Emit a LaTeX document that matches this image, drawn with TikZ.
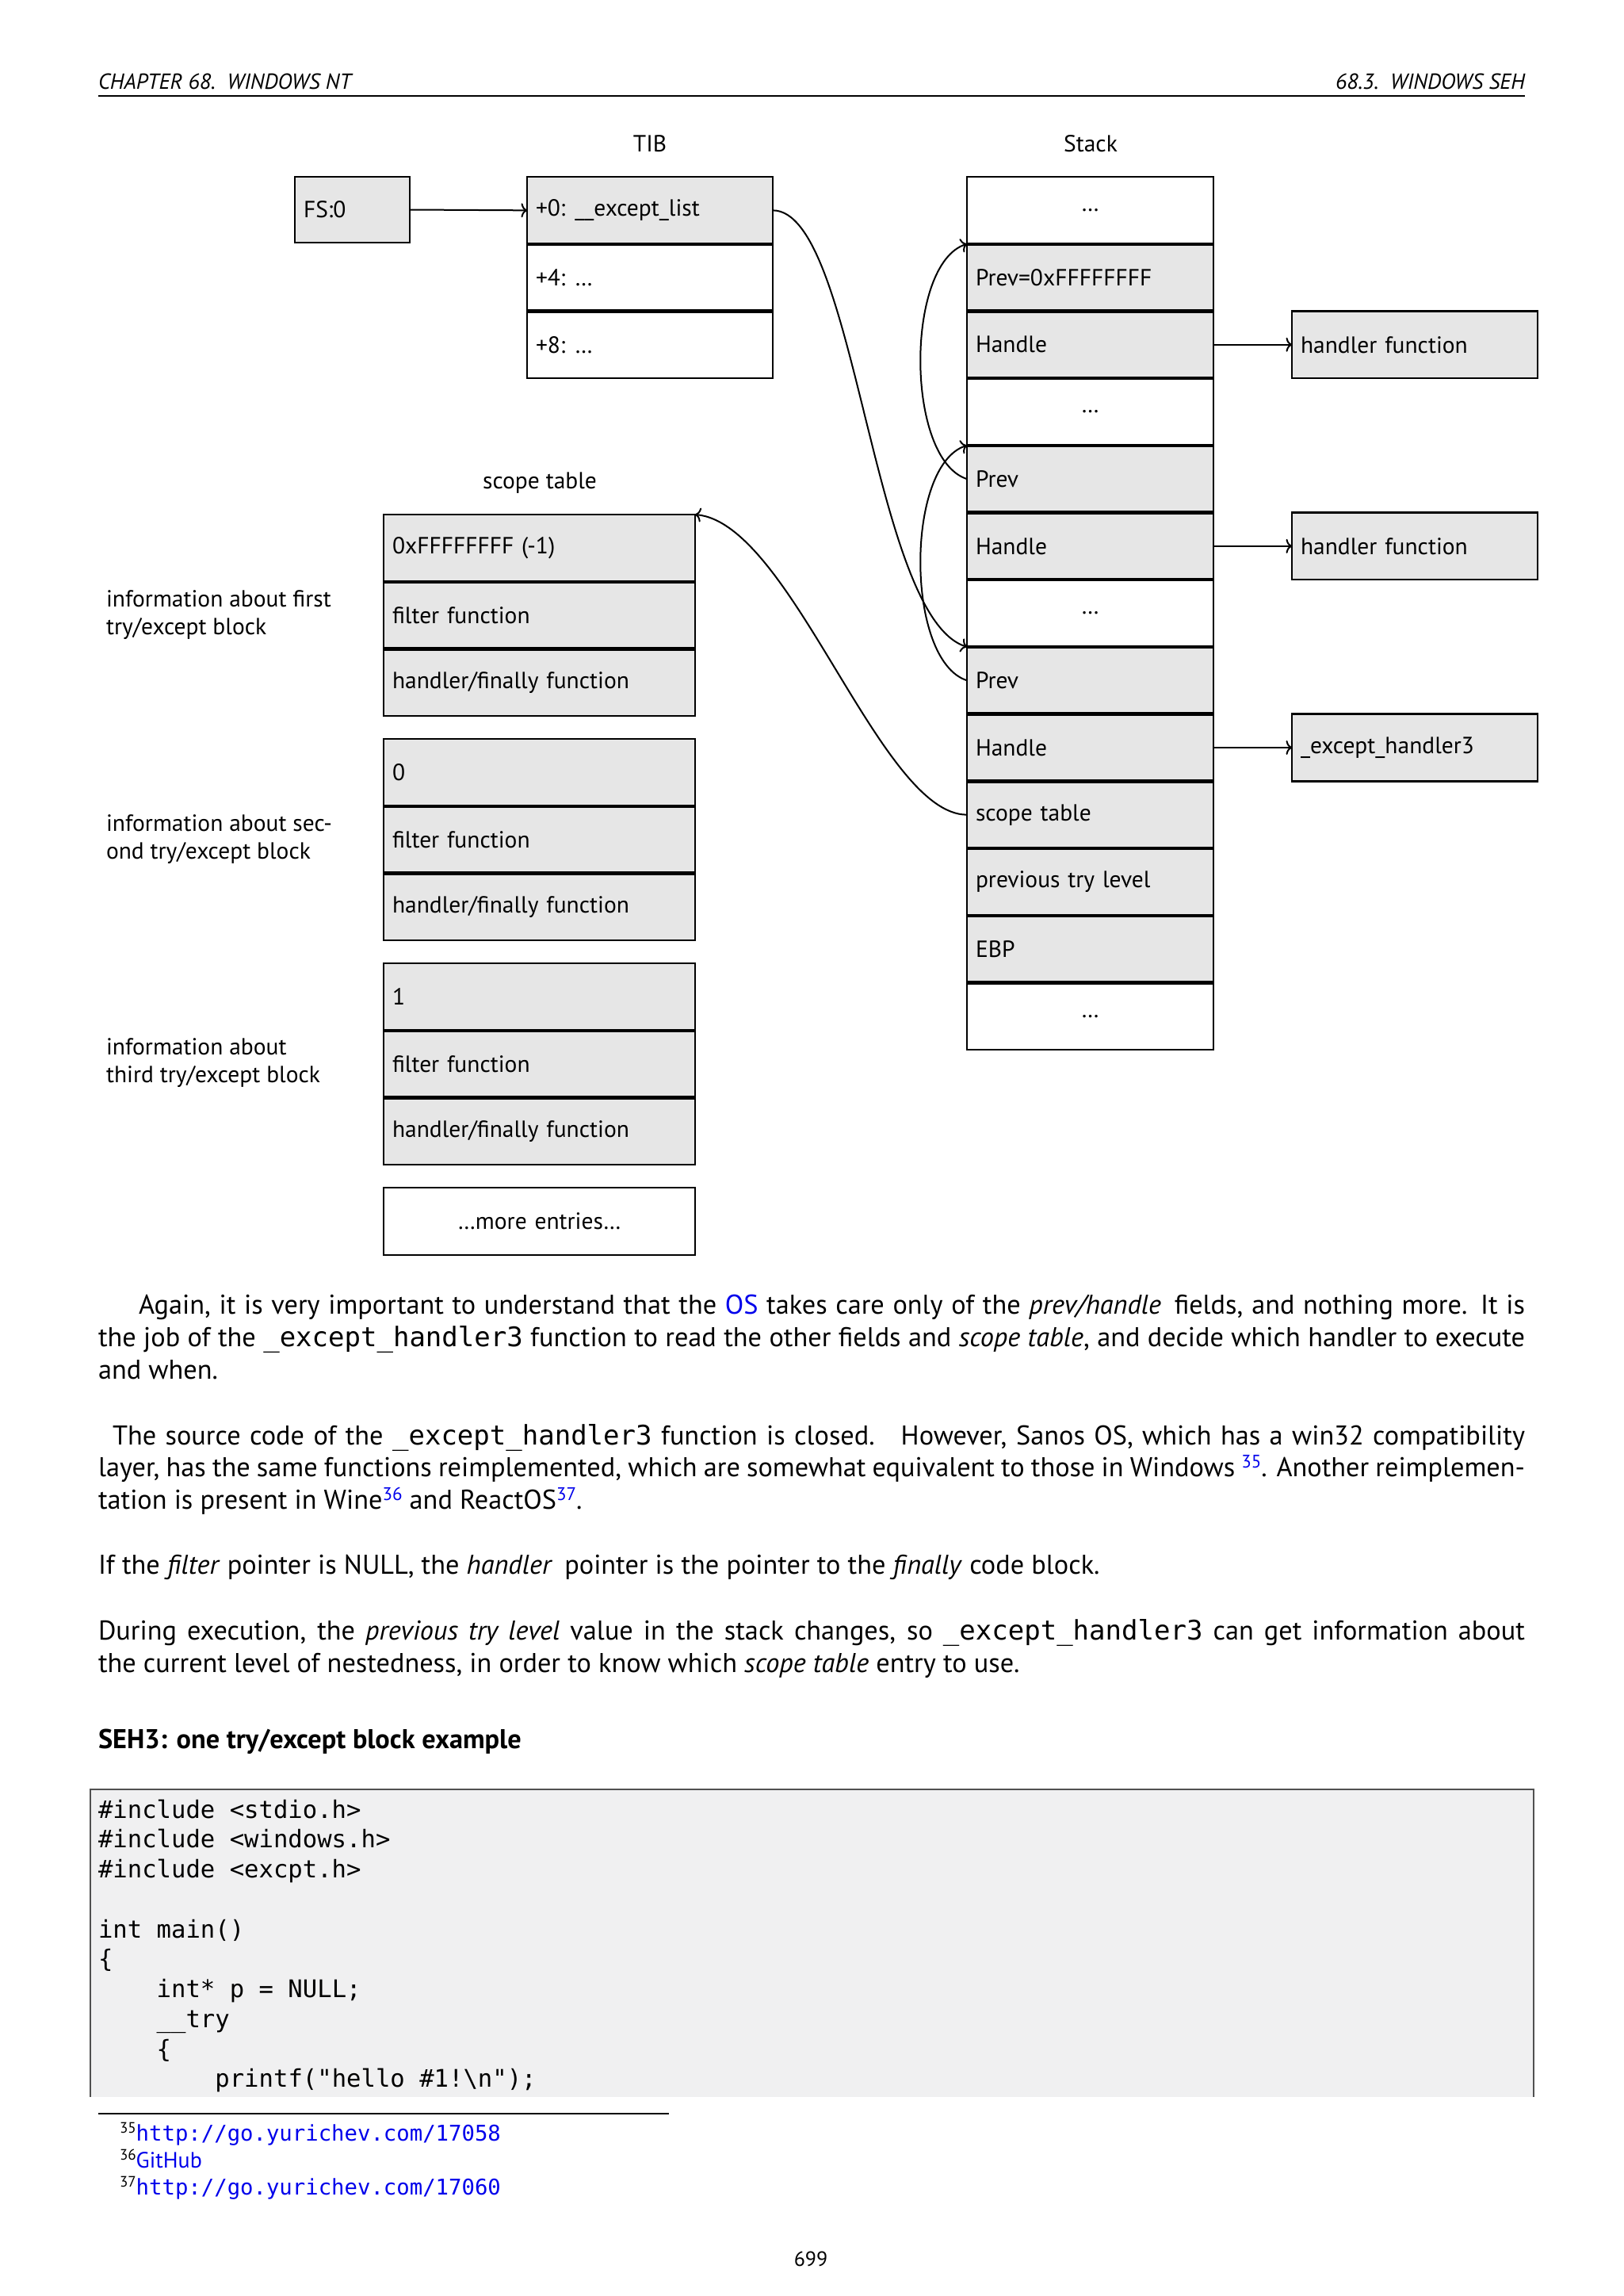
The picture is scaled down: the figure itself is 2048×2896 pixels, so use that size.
\documentclass[tikz,border=0pt]{standalone}
\usepackage{fontspec}
\setmainfont{PT Sans}
\setmonofont{DejaVu Sans Mono}
\usetikzlibrary{arrows.meta}
\definecolor{cellgray}{RGB}{230,230,230}
\definecolor{codegray}{RGB}{240,240,241}
\definecolor{codeframe}{RGB}{80,80,80}
\definecolor{linkblue}{RGB}{0,0,235}
\newcommand\dgf{\fontsize{29.5}{34}\selectfont}
\newcommand\bdf{\fontsize{34.3}{41}\selectfont}
\newcommand\bmono[1]{{\fontsize{34}{41}\selectfont\ttfamily #1}}
\newcommand\cdf{\fontsize{30.6}{37}\selectfont\ttfamily}
\newcommand\hdf{\fontsize{27.5}{32}\selectfont\itshape}
\newcommand\fnf{\fontsize{28}{32}\selectfont}
\newcommand\fnm[1]{{\fontsize{27.3}{30}\selectfont\ttfamily\color{linkblue}#1}}
\newcommand\fsup[1]{\raisebox{10pt}{\fontsize{19}{22}\selectfont #1}}
\newcommand\lsup[1]{\raisebox{11pt}{\fontsize{23}{26}\selectfont\color{linkblue}#1}}
\begin{document}
\begin{tikzpicture}[x=1pt,y=-1pt,
  every node/.style={inner sep=0pt, outer sep=0pt},
  box/.style={draw, line width=2.4pt, inner xsep=11pt, inner ysep=0pt,
    minimum height=84.7pt, anchor=north west, font=\dgf, align=left},
  gbox/.style={box, fill=cellgray},
  wbox/.style={box, fill=white},
  tibw/.style={text width=288pt, minimum width=310pt},
  stkw/.style={text width=289pt, minimum width=311pt},
  scw/.style={text width=371pt, minimum width=393pt},
  ctr/.style={align=center},
  sepline/.style={line width=4.4pt},
  conn/.style={line width=2pt, -{To[length=7.5pt,width=18pt]}},
  lbl/.style={font=\dgf, anchor=base},
  info/.style={font=\dgf, anchor=base west},
  txt/.style={font=\bdf, anchor=base west},
  code/.style={font=\cdf, anchor=base west}]
\useasboundingbox (0,0) rectangle (2048,2896);
\fill[white] (0,0) rectangle (2048,2896);

% header
\node[anchor=base west] (hl) at (124,112) {\hdf CHAPTER 68.\ \ WINDOWS NT};
\node[anchor=base east] (hr) at (1924,112) {\hdf 68.3.\ \ WINDOWS SEH};
\draw[line width=1.6pt] (124,121) -- (1924,121);

% titles
\node[lbl] (tibl) at (820,191) {TIB};
\node[lbl] (stkl) at (1376,191) {Stack};
\node[lbl] (scl) at (681,616) {scope table};

% FS:0
\node[gbox, text width=123pt, minimum width=145pt, minimum height=83pt] (fs) at (372,223) {FS:0};

% TIB
\node[gbox,tibw] (t0) at (665,223) {+0:\hspace{12pt}\_\_except\_list};
\node[wbox,tibw] (t1) at (665,307.7) {+4:\hspace{12pt}…};
\node[wbox,tibw] (t2) at (665,392.4) {+8:\hspace{12pt}…};

% Stack
\node[wbox,stkw,ctr] (s1) at (1220,223) {…};
\node[gbox,stkw] (s2) at (1220,307.7) {Prev=0xFFFFFFFF};
\node[gbox,stkw] (s3) at (1220,392.4) {Handle};
\node[wbox,stkw,ctr] (s4) at (1220,477.1) {…};
\node[gbox,stkw] (s5) at (1220,561.8) {Prev};
\node[gbox,stkw] (s6) at (1220,646.5) {Handle};
\node[wbox,stkw,ctr] (s7) at (1220,731.2) {…};
\node[gbox,stkw] (s8) at (1220,815.9) {Prev};
\node[gbox,stkw] (s9) at (1220,900.6) {Handle};
\node[gbox,stkw] (s10) at (1220,985.3) {scope table};
\node[gbox,stkw] (s11) at (1220,1070) {previous try level};
\node[gbox,stkw] (s12) at (1220,1154.7) {EBP};
\node[wbox,stkw,ctr] (s13) at (1220,1239.4) {…};

% handlers
\node[gbox,tibw] (h1) at (1630,392.4) {handler function};
\node[gbox,tibw] (h2) at (1630,646.5) {handler function};
\node[gbox,tibw] (h3) at (1630,900.6) {\_except\_handler3};

% scope table
\node[gbox,scw] (a0) at (484,649) {0xFFFFFFFF (-1)};
\node[gbox,scw] (a1) at (484,733.7) {filter function};
\node[gbox,scw] (a2) at (484,818.4) {handler/finally function};
\node[gbox,scw] (b0) at (484,932) {0};
\node[gbox,scw] (b1) at (484,1016.7) {filter function};
\node[gbox,scw] (b2) at (484,1101.4) {handler/finally function};
\node[gbox,scw] (c0) at (484,1215) {1};
\node[gbox,scw] (c1) at (484,1299.7) {filter function};
\node[gbox,scw] (c2) at (484,1384.4) {handler/finally function};
\node[wbox,scw,ctr] (more) at (484,1498) {…more entries…};

% separators
\foreach \n in {t0,t1,s1,s2,s3,s4,s5,s6,s7,s8,s9,s10,s11,s12,a0,a1,b0,b1,c0,c1}
  \draw[sepline] (\n.south west) -- (\n.south east);

% info labels
\node[info] (i1a) at (134,765) {information about first};
\node[info] (i1b) at (134,800) {try/except block};
\node[info] (i2a) at (134,1048) {information about sec-};
\node[info] (i2b) at (134,1083) {ond try/except block};
\node[info] (i3a) at (134,1330) {information about};
\node[info] (i3b) at (134,1365) {third try/except block};

% connectors
\draw[conn] (fs.east) -- (t0.west);
\draw[conn] (s3.east) -- (h1.west);
\draw[conn] (s6.east) -- (h2.west);
\draw[conn] (s9.east) -- (h3.west);
\draw[conn] (t0.east) .. controls +(105,0) and +(-120,-38) .. (s8.north west);
\draw[conn] (s5.west) .. controls +(-78,-25) and +(-78,25) .. (s2.north west);
\draw[conn] (s8.west) .. controls +(-78,-25) and +(-78,25) .. (s5.north west);
\draw[conn] (s10.west) .. controls +(-110,0) and +(122,11) .. (a0.north east);

% body text
\node[txt] (p1a) at (175,1657) {\makebox[1749pt][s]{Again, it is very important to understand that the {\color{linkblue}OS} takes care only of the \textit{prev/handle}\hspace{6pt} fields, and nothing more. It is}};
\node[txt] (p1b) at (124,1698) {\makebox[1800pt][s]{the job of the \bmono{\_except\_handler3} function to read the other fields and \textit{scope table}, and decide which handler to execute}};
\node[txt] (p1c) at (124,1739) {and when.};
\node[txt] (p2a) at (142,1822) {\makebox[1782pt][s]{The source code of the \bmono{\_except\_handler3} function is closed.\hspace{14pt} However, Sanos OS, which has a win32 compatibility}};
\node[txt] (p2b) at (124,1862) {\makebox[1800pt][s]{layer, has the same functions reimplemented, which are somewhat equivalent to those in Windows \lsup{35}. Another reimplemen-}};
\node[txt] (p2c) at (124,1903) {tation is present in Wine\lsup{36} and ReactOS\lsup{37}.};
\node[txt] (p3) at (124,1985) {If the \textit{filter} pointer is NULL, the \textit{handler}\hspace{6pt} pointer is the pointer to the \textit{finally} code block.};
\node[txt] (p4a) at (124,2068) {\makebox[1800pt][s]{During execution, the \textit{previous try level} value in the stack changes, so \bmono{\_except\_handler3} can get information about}};
\node[txt] (p4b) at (124,2109) {the current level of nestedness, in order to know which \textit{scope table} entry to use.};

\node[txt] (head) at (124,2205) {\bfseries SEH3: one try/except block example};

% code box
\fill[codegray] (114,2257) rectangle (1935,2645);
\draw[line width=1.5pt, codeframe] (114,2645) -- (114,2257) -- (1935,2257) -- (1935,2645);
\node[code] (c1l) at (124,2293) {\#include <stdio.h>};
\node[code] (c2l) at (124,2330.75) {\#include <windows.h>};
\node[code] (c3l) at (124,2368.5) {\#include <excpt.h>};
\node[code] (c5l) at (124,2444) {int main()};
\node[code] (c6l) at (124,2481.75) {\{};
\node[code] (c7l) at (124,2519.5) {\hspace*{73.7pt}int* p = NULL;};
\node[code] (c8l) at (124,2557.25) {\hspace*{73.7pt}\_\_try};
\node[code] (c9l) at (124,2595) {\hspace*{73.7pt}\{};
\node[code] (c10l) at (124,2632.75) {\hspace*{147.4pt}printf("hello \#1!\textbackslash n");};

% footnotes
\draw[line width=1.2pt] (124,2666) -- (844,2666);
\node[anchor=base west, font=\fnf] (fn1) at (151,2700) {\fsup{35}\fnm{http://go.yurichev.com/17058}};
\node[anchor=base west, font=\fnf] (fn2) at (151,2734) {\fsup{36}{\color{linkblue}GitHub}};
\node[anchor=base west, font=\fnf] (fn3) at (151,2768) {\fsup{37}\fnm{http://go.yurichev.com/17060}};

\node[anchor=base] (pg) at (1023,2858) {\fontsize{26}{30}\selectfont 699};
\end{tikzpicture}
\end{document}
